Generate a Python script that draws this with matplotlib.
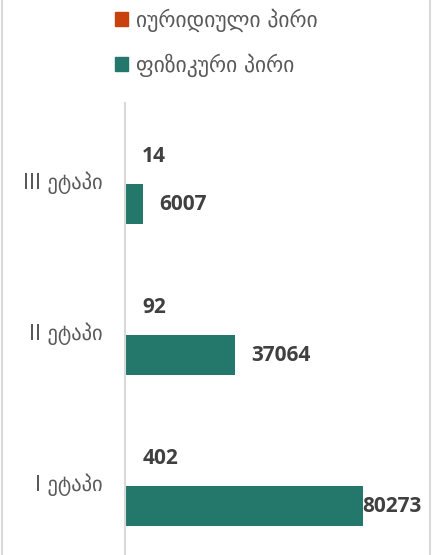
import matplotlib
matplotlib.use("Agg")
import matplotlib.pyplot as plt
from matplotlib.lines import Line2D
from matplotlib.patches import Patch

# მონაცემები
etapebi = ["I ეტაპი", "II ეტაპი", "III ეტაპი"]
iuridiuli = [402, 92, 14]
fizikuri = [80273, 37064, 6007]
seriebi = ["იურიდიული პირი", "ფიზიკური პირი"]

ORANGE = "#C9410C"
GREEN = "#23786B"
GRAY_TXT = "#595959"
LBL_TXT = "#404040"

W, H = 433, 555
fig = plt.figure(figsize=(W / 100, H / 100), dpi=100)
ax = fig.add_axes([125 / W, 0, (421 - 125) / W, (555 - 103) / H])

pos = list(range(len(etapebi)))
bh = 0.27
off = 0.159
ax.barh([p + off for p in pos], iuridiuli, height=bh, color=ORANGE)
ax.barh([p - off for p in pos], fizikuri, height=bh, color=GREEN)

ax.set_xlim(0, 100000)
ax.set_ylim(-0.483, 2.51)
ax.set_yticks(pos)
ax.set_yticklabels(etapebi, fontsize=14.8, color=GRAY_TXT, family="DejaVu Sans")
ax.tick_params(axis="y", length=0, pad=16)
ax.set_xticks([])
for s in ["top", "right", "bottom"]:
    ax.spines[s].set_visible(False)
ax.spines["left"].set_color("#d9d9d9")
ax.spines["left"].set_linewidth(1.5)

# მონაცემთა წარწერები
anns = []
for p, v in zip(pos, iuridiuli):
    anns.append(ax.annotate(str(v), (v, p + off), xytext=(12, 0), textcoords="offset points",
                            ha="left", va="center", fontsize=15, fontweight="bold",
                            color=LBL_TXT, family="Open Sans"))
for p, v in zip(pos, fizikuri):
    anns.append(ax.annotate(str(v), (v, p - off), xytext=(12, 0), textcoords="offset points",
                            ha="left", va="center", fontsize=15, fontweight="bold",
                            color=LBL_TXT, family="Open Sans"))

fig.canvas.draw()
r = fig.canvas.get_renderer()
ax_right = ax.get_window_extent(r).x1
for a in anns:
    bb = a.get_window_extent(r)
    if bb.x1 > ax_right:
        # ჩაეტიოს დიაგრამის არეში
        a.xy = (ax.get_xlim()[1], a.xy[1])
        a.set_position((0, 0))
        a.set_ha("right")

handles = [Patch(color=ORANGE), Patch(color=GREEN)]
fig.legend(handles, seriebi, loc="upper left", bbox_to_anchor=(115 / W, 1 - 8.5 / H),
           frameon=False, handlelength=0.62, handleheight=0.62,
           handletextpad=0.35, labelspacing=1.0, borderpad=0, borderaxespad=0,
           labelcolor=GRAY_TXT, prop={"family": "DejaVu Sans", "size": 15.5})

# ჩარჩო
fig.add_artist(Line2D([1.5 / W, 1.5 / W], [0, 1], color="#d9d9d9", lw=1.5))
fig.add_artist(Line2D([430 / W, 430 / W], [0, 1], color="#d9d9d9", lw=1.5))

fig.savefig("out.png", dpi=100)
